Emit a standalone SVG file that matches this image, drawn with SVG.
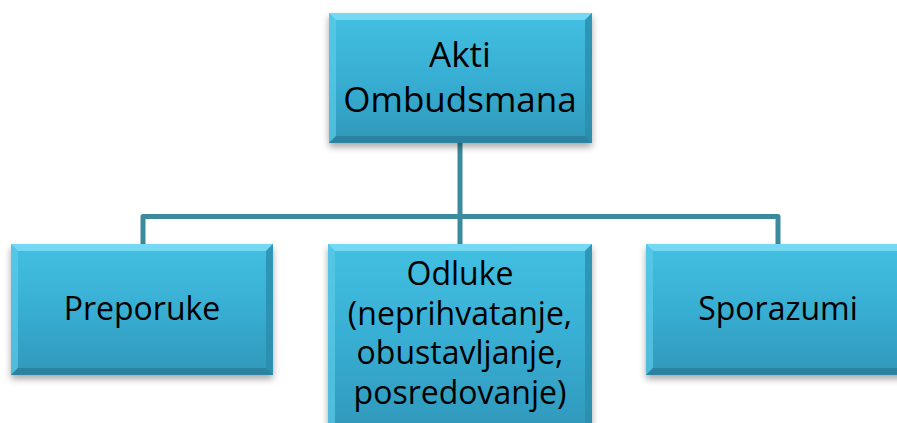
<svg xmlns="http://www.w3.org/2000/svg" width="897" height="423" viewBox="0 0 897 423">
<defs>
<linearGradient id="fill" x1="0" y1="0" x2="0" y2="1">
<stop offset="0" stop-color="#42c0e2"/>
<stop offset="0.5" stop-color="#38aed3"/>
<stop offset="1" stop-color="#2f98ba"/>
</linearGradient>
<filter id="sh" x="-10%" y="-10%" width="120%" height="130%">
<feDropShadow dx="0" dy="4" stdDeviation="3.5" flood-color="#000" flood-opacity="0.35"/>
</filter>
<style>
.box{fill:url(#fill);filter:url(#sh)}
.bt{fill:#7fdcf4;opacity:0.85}
.bl{fill:#5ccbe8;opacity:0.7}
.br{fill:#2a8cab;opacity:0.8}
.bb{fill:#2a7f9c;opacity:0.85}
.conn{stroke:#3b8a9e;stroke-width:5;fill:none;stroke-linejoin:round}
text{font-family:"Open Sans","Liberation Sans",sans-serif;fill:#000;text-anchor:middle}
.t1{font-size:35px}
.t2{font-size:32px}
</style>
</defs>
<g id="connectors">
<path class="conn" d="M460 143 V244"/>
<path class="conn" d="M143 244 V216.5 H778 V244"/>
</g>
<g id="akti">
<rect class="box" x="329" y="13" width="263" height="130"/>
<polygon class="bt" points="329,13 592,13 585,20 336,20"/>
<polygon class="bl" points="329,13 336,20 336,136 329,143"/>
<polygon class="br" points="592,13 592,143 585,136 585,20"/>
<polygon class="bb" points="329,143 336,136 585,136 592,143"/>
<text class="t1" x="460" y="67">Akti</text>
<text class="t1" x="460" y="112">Ombudsmana</text>
</g>
<g id="preporuke">
<rect class="box" x="11" y="244" width="262" height="131"/>
<polygon class="bt" points="11,244 273,244 266,251 18,251"/>
<polygon class="bl" points="11,244 18,251 18,368 11,375"/>
<polygon class="br" points="273,244 273,375 266,368 266,251"/>
<polygon class="bb" points="11,375 18,368 266,368 273,375"/>
<text class="t2" x="142" y="320">Preporuke</text>
</g>
<g id="odluke">
<rect class="box" x="328" y="244" width="264" height="190"/>
<polygon class="bt" points="328,244 592,244 585,251 335,251"/>
<polygon class="bl" points="328,244 335,251 335,434 328,434"/>
<polygon class="br" points="592,244 592,434 585,434 585,251"/>
<text class="t2" x="460" y="285">Odluke</text>
<text class="t2" x="460" y="324.5">(neprihvatanje,</text>
<text class="t2" x="460" y="364">obustavljanje,</text>
<text class="t2" x="460" y="403.5">posredovanje)</text>
</g>
<g id="sporazumi">
<rect class="box" x="646" y="244" width="264" height="131"/>
<polygon class="bt" points="646,244 910,244 903,251 653,251"/>
<polygon class="bl" points="646,244 653,251 653,368 646,375"/>
<polygon class="bb" points="646,375 653,368 903,368 910,375"/>
<text class="t2" x="778" y="320">Sporazumi</text>
</g>
</svg>
